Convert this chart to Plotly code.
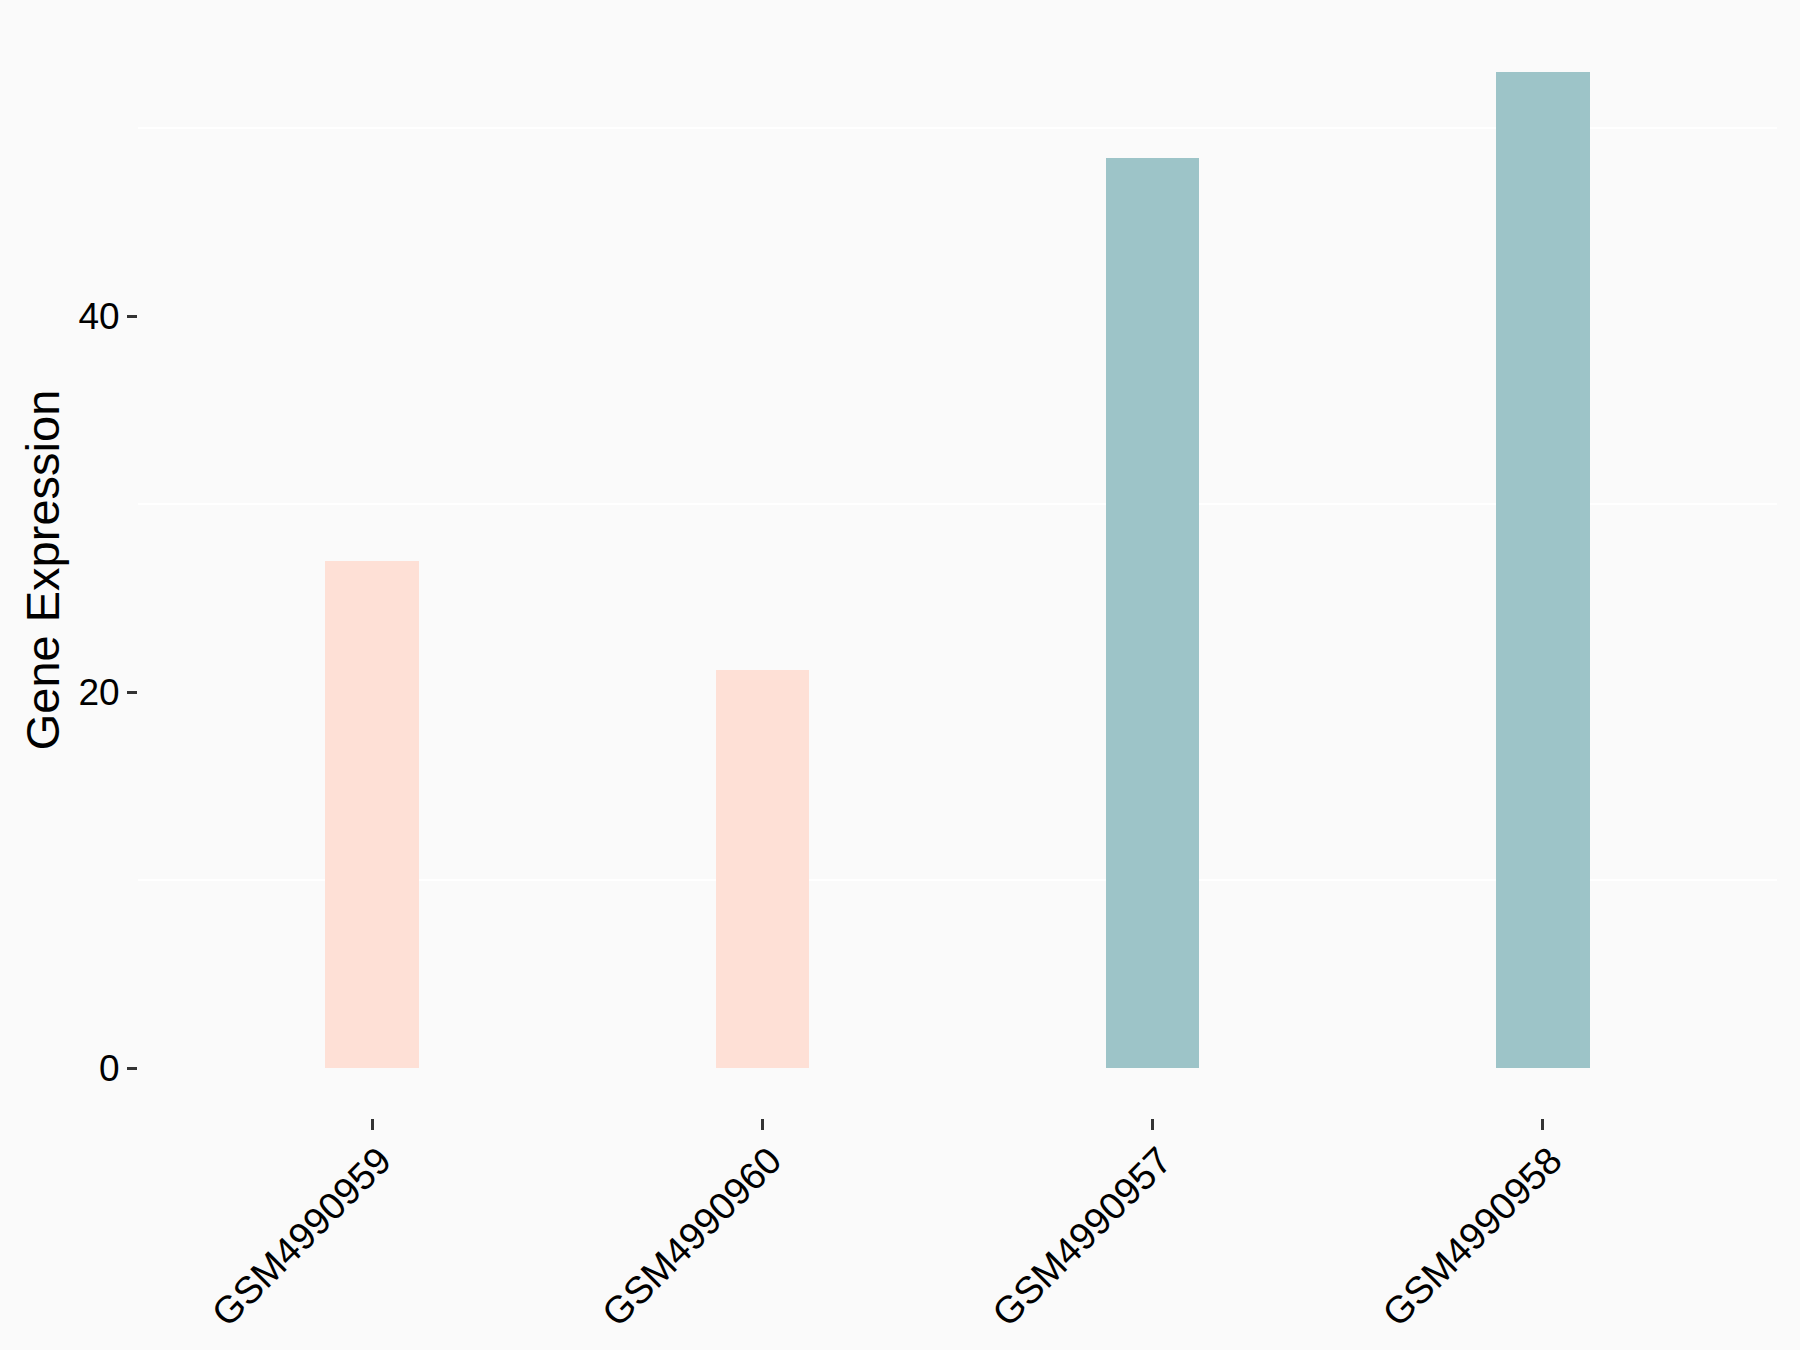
import plotly.graph_objects as go

samples = ["GSM4990959", "GSM4990960", "GSM4990957", "GSM4990958"]
expression = [27.0, 21.2, 48.4, 53.0]
bar_colors = ["#FEE0D6", "#FEE0D6", "#9DC4C8", "#9DC4C8"]
y_ticks = [0, 20, 40]

fig = go.Figure()
fig.add_trace(go.Bar(
    x=samples, y=expression, width=0.24,
    marker=dict(color=bar_colors, line=dict(width=0)),
    showlegend=False,
))

fig.update_layout(
    width=1800, height=1350,
    margin=dict(l=138, r=23, t=22, b=232),
    paper_bgcolor="#FAFAFA", plot_bgcolor="#FAFAFA",
    font=dict(family="Liberation Sans, Arial, sans-serif", color="black", size=37),
    bargap=0,
)
fig.update_xaxes(
    type="category", range=[-0.6, 3.6],
    showgrid=False, zeroline=False, showline=False,
    ticks="outside", ticklen=11, tickwidth=3, tickcolor="#333333",
    tickangle=-45, tickfont=dict(size=38, color="black"),
    ticklabelstandoff=-7, ticklabelshift=8,
)
fig.update_yaxes(
    range=[-2.65, 55.65], tickvals=y_ticks,
    showgrid=False, zeroline=False, showline=False,
    ticks="outside", ticklen=10, tickwidth=3, tickcolor="#333333",
    tickfont=dict(size=37, color="black"),
    ticklabelstandoff=0,
    minor=dict(tick0=10, dtick=20, showgrid=True, gridcolor="#FFFFFF", gridwidth=2, ticklen=0),
    title=dict(text="Gene Expression", font=dict(size=47, color="black"), standoff=3),
)

fig.write_html(
    "out.html",
    config={"displayModeBar": False},
    post_script="document.body.style.margin='0';document.body.style.background='#FAFAFA';",
)
